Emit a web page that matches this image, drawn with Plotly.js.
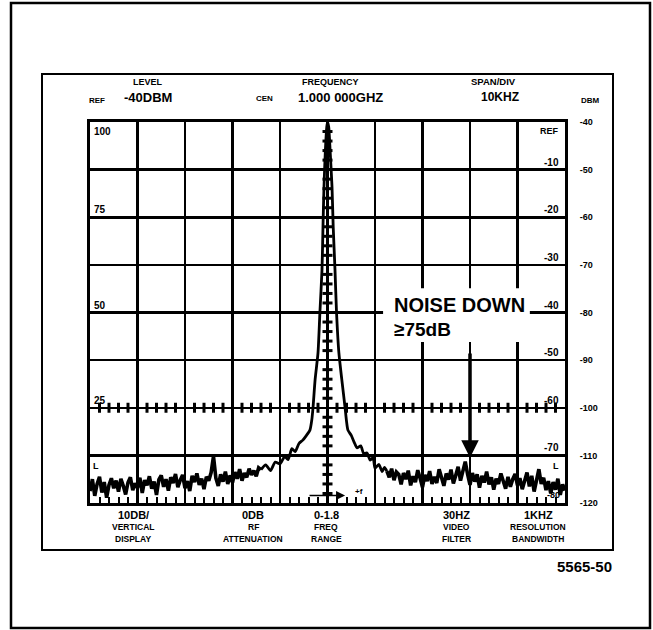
<!DOCTYPE html>
<html>
<head>
<meta charset="utf-8">
<script src="https://cdn.plot.ly/plotly-3.0.1.min.js"></script>
<style>html,body{margin:0;padding:0;background:#fff;}#chart{width:653px;height:630px;}</style>
</head>
<body>
<div id="chart"></div>
<script>
// ---- Data (frequency offset from 1.000 000 GHz in kHz, level in dBm) ----
const leftNoiseStartKHz = -50;
const rightNoiseStartKHz = 12.5;
const noiseStepKHz = 0.5;
const leftNoiseDbm = [
  -117.5,-115.0,-118.5,-116.0,-114.5,-117.8,-115.6,-118.9,-116.2,-114.8,
  -116.9,-115.3,-117.6,-114.9,-116.4,-118.2,-115.7,-114.6,-117.3,-115.9,
  -116.8,-114.7,-117.9,-115.2,-116.3,-114.4,-117.0,-115.5,-118.3,-115.1,
  -114.2,-116.6,-115.0,-117.4,-114.6,-115.8,-113.9,-116.7,-115.2,-114.1,
  -116.9,-115.4,-117.5,-114.3,-115.6,-113.8,-116.2,-114.9,-117.1,-114.5,
  -115.3,-113.6,-110.2,-114.8,-116.4,-114.0,-115.5,-113.4,-116.0,-114.2,
  -115.7,-113.5,-114.9,-112.9,-115.3,-113.7,-114.6,-112.8,-114.1,-113.2,
  -114.4,-112.6,-113.0
];
const peakKHz = [
  -14,-13,-12,-11,-10,-9,-8.3,-7.5,-6.8,-6,-5.2,-4.5,-3.7,-3.3,-3.05,-2.6,-2.0,-1.6,-1.16,-0.95,-0.74,-0.45,-0.15,
  0,0.25,0.55,0.95,1.2,1.58,1.9,2.4,3.0,3.7,4.0,4.3,5.0,5.6,6.2,7.0,7.6,8.3,9.0,9.6,10.0,10.8,11.5,12.0,12.5
];
const peakDbm = [
  -113.0,-112.0,-113.2,-111.4,-111.8,-110.2,-110.9,-108.6,-109.2,-107.5,-106.8,-105.9,-104.7,-102.5,-100,-94,-88.5,-80,-71.1,-62,-53.6,-46,-41,
  -40,-41,-46,-53.6,-62,-71.1,-80,-88.5,-94,-100,-102.8,-104.7,-105.8,-107.2,-108.4,-108.0,-109.6,-109.5,-111.0,-110.4,-112.7,-111.9,-113.4,-112.5,-113.3
];
const rightNoiseDbm = [
  -113.3,-114.6,-112.8,-115.2,-113.5,-114.0,-116.1,-113.7,-115.0,-113.2,
  -116.3,-114.4,-115.6,-113.1,-114.8,-116.7,-114.1,-115.4,-113.3,-116.0,
  -114.5,-115.8,-112.9,-114.7,-116.4,-113.8,-115.1,-113.0,-115.9,-114.2,
  -112.4,-115.3,-113.6,-111.3,-114.0,-116.2,-113.7,-115.5,-114.0,-116.8,
  -114.3,-115.7,-113.4,-116.1,-114.6,-117.2,-114.9,-116.0,-113.8,-115.4,
  -117.0,-114.5,-116.6,-115.0,-113.9,-116.3,-114.8,-117.1,-115.2,-113.6,
  -116.5,-114.3,-117.6,-115.1,-112.9,-116.0,-114.7,-117.3,-115.4,-118.0,
  -115.6,-117.2,-114.9,-118.3,-116.1,-117.4
];
const dbmTickVals = [-40,-50,-60,-70,-80,-90,-100,-110,-120];
const dbmTickText = ['-40','-50','-60','-70','-80','-90','-100','-110','-120'];
const relTickVals = [-50,-60,-70,-80,-90,-100,-110];
const relTickText = ['-10','-20','-30','-40','-50','-60','-70'];
const pctTickVals = [-60,-80,-100];
const pctTickText = ['75','50','25'];
const noiseMarkerKHz = 30;
const noiseMarkerFromDbm = -88.3;
const noiseMarkerToDbm = -110.5;

// ---- Layout helpers (pixel -> paper) ----
const PL = 90, PR = 565, PT = 122, PB = 503;
const PX = x => (x - PL) / (PR - PL);
const PY = y => (PB - y) / (PB - PT);
const FONT = 'Liberation Sans, Arial, sans-serif';
const blk = '#000';

const lineStyle = {color: blk, width: 3.6};
const traces = [
  {type:'scatter', mode:'lines', x0:leftNoiseStartKHz, dx:noiseStepKHz, y:leftNoiseDbm, line:lineStyle, hoverinfo:'skip'},
  {type:'scatter', mode:'lines', x:peakKHz, y:peakDbm, line:{color:blk, width:2.8, shape:'spline', smoothing:0.6}, hoverinfo:'skip'},
  {type:'scatter', mode:'lines', x0:rightNoiseStartKHz, dx:noiseStepKHz, y:rightNoiseDbm, line:lineStyle, hoverinfo:'skip'}
];

const shapes = [];
// outer and inner frames
shapes.push({type:'rect', xref:'paper', yref:'paper', x0:PX(11), x1:PX(650), y0:PY(628), y1:PY(3), line:{color:blk, width:2.5}});
shapes.push({type:'rect', xref:'paper', yref:'paper', x0:PX(42), x1:PX(613), y0:PY(550), y1:PY(74), line:{color:blk, width:2}});
// graticule ticks along the -100 dBm line
for (let k = -48; k <= 48; k += 2) {
  if (k % 10 === 0) continue;
  shapes.push({type:'line', xref:'x', yref:'y', ysizemode:'pixel', yanchor:-100, x0:k, x1:k, y0:-5, y1:5, line:{color:blk, width:3}});
}
// graticule ticks along center frequency line
for (let v = -118; v <= -42; v += 2) {
  if (v % 10 === 0) continue;
  shapes.push({type:'line', xref:'x', yref:'y', xsizemode:'pixel', xanchor:0, x0:-5, x1:5, y0:v, y1:v, line:{color:blk, width:3}});
}
// white background behind the annotation text
shapes.push({type:'rect', xref:'x', yref:'y', x0:11.7, x1:42.6, y0:-86.2, y1:-74.9, fillcolor:'#fff', line:{width:0}, layer:'above'});

const ann = [];
function T(text, x, y, size, opts) {
  ann.push(Object.assign({text:text, xref:'paper', yref:'paper', x:PX(x), y:PY(y), xanchor:'center', yanchor:'middle',
    showarrow:false, font:{family:FONT, size:size, color:blk, weight:'bold'}}, opts || {}));
}
// header
T('LEVEL', 148, 82, 9);
T('REF', 97, 100, 8);
T('-40DBM', 148, 97, 13);
T('CEN', 264, 99, 8);
T('FREQUENCY', 330, 82, 9);
T('1.000 000GHZ', 340, 97, 13);
T('SPAN/DIV', 493, 82, 9.5);
T('10KHZ', 500, 97, 12);
T('DBM', 590, 100, 8);
// bottom settings
const bottomCols = [
  [133, '10DB/', 'VERTICAL', 'DISPLAY'],
  [253, '0DB', 'RF', 'ATTENUATION'],
  [326, '0-1.8', 'FREQ', 'RANGE'],
  [456, '30HZ', 'VIDEO', 'FILTER'],
  [538, '1KHZ', 'RESOLUTION', 'BANDWIDTH']
];
bottomCols.forEach(c => {
  T(c[1], c[0], 515, 11);
  T(c[2], c[0], 527, 8.5);
  T(c[3], c[0], 539, 8.5);
});
T('5565-50', 584, 566, 15);
// in-graticule labels
ann.push({text:'100', xref:'paper', yref:'y', x:PX(92), y:-40, xanchor:'left', yanchor:'top', yshift:-2, showarrow:false, font:{family:FONT, size:10, color:blk, weight:'bold'}});
pctTickVals.forEach((v, i) => ann.push({text:pctTickText[i], xref:'paper', yref:'y', x:PX(92), y:v, xanchor:'left', yanchor:'bottom', yshift:0, showarrow:false, font:{family:FONT, size:10, color:blk, weight:'bold'}}));
ann.push({text:'REF', xref:'paper', yref:'y', x:PX(561), y:-40, xanchor:'right', yanchor:'top', yshift:-2, showarrow:false, font:{family:FONT, size:9, color:blk, weight:'bold'}});
relTickVals.forEach((v, i) => ann.push({text:relTickText[i], xref:'paper', yref:'y', x:PX(561), y:v, xanchor:'right', yanchor:'bottom', showarrow:false, font:{family:FONT, size:10, color:blk, weight:'bold'}}));
ann.push({text:'-80', xref:'paper', yref:'y', x:PX(562), y:-120, xanchor:'right', yanchor:'bottom', yshift:1, showarrow:false, font:{family:FONT, size:9, color:blk, weight:'bold'}});
T('L', 556, 466, 9);
T('L', 96, 466, 9);
// noise annotation
ann.push({text:'NOISE DOWN', xref:'paper', yref:'paper', x:PX(392), y:PY(305), xanchor:'left', yanchor:'middle', showarrow:false, font:{family:FONT, size:20, color:blk, weight:'bold'}});
ann.push({text:'≥75dB', xref:'paper', yref:'paper', x:PX(392), y:PY(329), xanchor:'left', yanchor:'middle', showarrow:false, font:{family:FONT, size:19, color:blk, weight:'bold'}});
ann.push({text:'', x:noiseMarkerKHz, y:noiseMarkerToDbm, ax:noiseMarkerKHz, ay:noiseMarkerFromDbm, xref:'x', yref:'y', axref:'x', ayref:'y',
  showarrow:true, arrowhead:2, arrowsize:1.0, arrowwidth:3.5, arrowcolor:blk});
// +f direction arrow
ann.push({text:'', x:3.7, y:-118.4, ax:-4.1, ay:-118.4, xref:'x', yref:'y', axref:'x', ayref:'y', showarrow:true, arrowhead:2, arrowsize:1.2, arrowwidth:1.5, arrowcolor:blk});
ann.push({text:'+f', xref:'x', yref:'y', x:5.4, y:-117.6, xanchor:'left', yanchor:'middle', showarrow:false, font:{family:FONT, size:8, color:blk, weight:'bold'}});

const layout = {
  width:653, height:630,
  margin:{l:PL, r:653-PR, t:PT, b:630-PB, pad:0},
  paper_bgcolor:'#fff', plot_bgcolor:'#fff',
  showlegend:false,
  xaxis:{range:[-50,50], tick0:0, dtick:10, showgrid:true, gridcolor:blk, gridwidth:2.5, zeroline:false,
    showline:true, linecolor:blk, linewidth:3, mirror:true, showticklabels:false,
    ticks:'inside', ticklen:6, tickwidth:2, tickcolor:blk,
    minor:{dtick:2, ticks:'inside', ticklen:6, tickwidth:2, tickcolor:blk, showgrid:false}, fixedrange:true},
  yaxis:{range:[-120,-40], tickvals:dbmTickVals, ticktext:dbmTickText, side:'right', showgrid:true, gridcolor:blk, gridwidth:2.5,
    zeroline:false, showline:true, linecolor:blk, linewidth:3, mirror:true, ticks:'', ticklabelstandoff:10,
    tickfont:{family:FONT, size:9, color:blk, weight:'bold'}, fixedrange:true},
  shapes:shapes,
  annotations:ann
};

Plotly.newPlot('chart', traces, layout, {staticPlot:true, displayModeBar:false});
</script>
</body>
</html>
